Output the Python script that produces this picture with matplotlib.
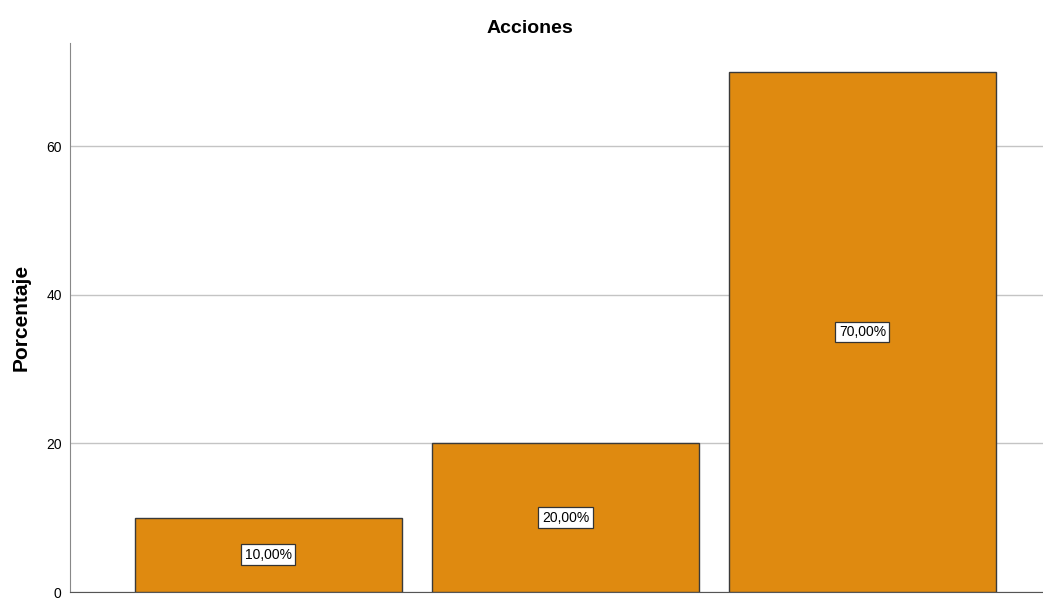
import matplotlib
matplotlib.use("Agg")
import matplotlib.pyplot as plt

plt.rcParams['font.family'] = ['Liberation Sans', 'DejaVu Sans']

categories = ['A', 'B', 'C']
percentages = [10.0, 20.0, 70.0]
labels = ['10,00%', '20,00%', '70,00%']
yticks = [0, 20, 40, 60]

fig = plt.figure(figsize=(10.43, 5.99), dpi=100)
ax = fig.add_axes([70 / 1043, 7 / 599, 1 - 70 / 1043, (592 - 43) / 599])

x = list(range(len(categories)))
ax.bar(x, percentages, width=0.9, color='#DF8A10', edgecolor='#3a3a3a',
       linewidth=1.0, zorder=3)

for xi, v, lab in zip(x, percentages, labels):
    ax.text(xi, v / 2, lab, ha='center', va='center', fontsize=10, zorder=4,
            bbox=dict(boxstyle='square,pad=0.25', facecolor='white',
                      edgecolor='#333333', linewidth=0.9))

ax.set_xlim(-0.668, 2.608)
ax.set_ylim(0, 73.9)
ax.set_yticks(yticks)
ax.set_yticklabels([str(t) for t in yticks], fontsize=10)
ax.tick_params(axis='y', length=0, pad=6)
ax.set_xticks([])
ax.yaxis.grid(True, color='#c4c4c4', linewidth=1.0, zorder=0)

for s in ['top', 'right']:
    ax.spines[s].set_visible(False)
ax.spines['left'].set_color('#888888')
ax.spines['bottom'].set_color('#555555')

# title and y label placed like the SPSS output
fig.text(530 / 1043, 1 - 33 / 599, 'Acciones', ha='center', va='baseline',
         fontsize=14, fontweight='bold')
fig.text(21 / 1043, 1 - 317 / 599, 'Porcentaje', rotation=90, ha='center',
         va='center', fontsize=15, fontweight='bold')

fig.savefig('out.png', dpi=100)
